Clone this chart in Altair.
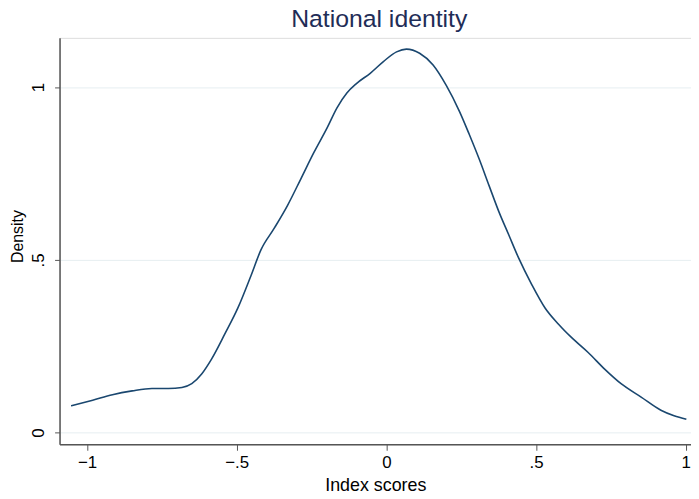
import altair as alt
import pandas as pd

# Kernel density curve
index_scores = [-1.053, -0.981, -0.915, -0.849, -0.783, -0.728, -0.683, -0.650, -0.617, -0.584,
                -0.540, -0.496, -0.452, -0.419, -0.375, -0.330, -0.286, -0.242, -0.198, -0.165,
                -0.132, -0.099, -0.054, -0.010, 0.034, 0.067, 0.111, 0.156, 0.200, 0.244,
                0.277, 0.310, 0.343, 0.376, 0.409, 0.442, 0.486, 0.530, 0.575, 0.619,
                0.674, 0.729, 0.785, 0.851, 0.917, 0.961, 1.002]
density = [0.0775, 0.094, 0.110, 0.121, 0.128, 0.128, 0.131, 0.142, 0.170, 0.213,
           0.285, 0.361, 0.455, 0.529, 0.591, 0.658, 0.734, 0.811, 0.882, 0.940,
           0.983, 1.011, 1.040, 1.074, 1.102, 1.110, 1.098, 1.064, 1.005, 0.930,
           0.863, 0.792, 0.715, 0.639, 0.572, 0.505, 0.428, 0.361, 0.314, 0.275,
           0.232, 0.184, 0.141, 0.103, 0.065, 0.049, 0.039]

x_ticks = [-1, -0.5, 0, 0.5, 1]
x_tick_labels = ["\u22121", "\u2212.5", "0", ".5", "1"]
y_ticks = [0, 0.5, 1]
y_tick_labels = ["0", ".5", "1"]

df = pd.DataFrame({"x": index_scores, "y": density})


def label_expr(values, labels):
    expr = "''"
    for v, l in zip(values, labels):
        expr = f"abs(datum.value - ({v})) < 1e-9 ? '{l}' : " + expr
    return expr


FONT = "Liberation Sans"
AXIS_COLOR = "#555555"

chart = alt.Chart(df).mark_line(
    color="#1a476f", strokeWidth=1.6, interpolate="monotone"
).encode(
    x=alt.X(
        "x:Q",
        scale=alt.Scale(domain=[-1.0917, 1.0175], nice=False, zero=False),
        axis=alt.Axis(
            values=x_ticks,
            labelExpr=label_expr(x_ticks, x_tick_labels),
            title="Index scores",
            grid=False,
            domainColor=AXIS_COLOR,
            domainWidth=1.5,
            tickColor=AXIS_COLOR,
            tickWidth=1,
            tickSize=6,
            labelPadding=4,
            labelFontSize=17,
            labelFont=FONT,
            labelColor="#000000",
            titleFontSize=18,
            titleFont=FONT,
            titleFontWeight="normal",
            titleColor="#000000",
            titlePadding=7,
        ),
    ),
    y=alt.Y(
        "y:Q",
        scale=alt.Scale(domain=[-0.0336, 1.1426], nice=False, zero=False),
        axis=alt.Axis(
            values=y_ticks,
            labelExpr=label_expr(y_ticks, y_tick_labels),
            title="Density",
            grid=True,
            gridColor="#e6eef1",
            gridWidth=1,
            domainColor=AXIS_COLOR,
            domainWidth=1.5,
            tickColor=AXIS_COLOR,
            tickWidth=1,
            tickSize=5,
            labelAngle=270,
            labelAlign="center",
            labelBaseline="alphabetic",
            labelPadding=11,
            labelFontSize=17,
            labelFont=FONT,
            labelColor="#000000",
            titleAngle=270,
            titleAlign="center",
            titleBaseline="alphabetic",
            titleX=-37,
            titleY=200,
            titleFontSize=16,
            titleFont=FONT,
            titleFontWeight="normal",
            titleColor="#000000",
        ),
    ),
).properties(
    width=637,
    height=410,
    title=alt.TitleParams(
        text="National identity",
        fontSize=25,
        font=FONT,
        fontWeight="normal",
        color="#1f2d57",
        anchor="middle",
        frame="group",
        offset=6,
        dx=4,
    ),
    autosize=alt.AutoSizeParams(type="none"),
    padding={"left": 52, "top": 28, "right": 0, "bottom": 45},
).configure_view(stroke=None).configure(background="white")

chart.save("out.html", embed_options={"renderer": "svg", "actions": False})
